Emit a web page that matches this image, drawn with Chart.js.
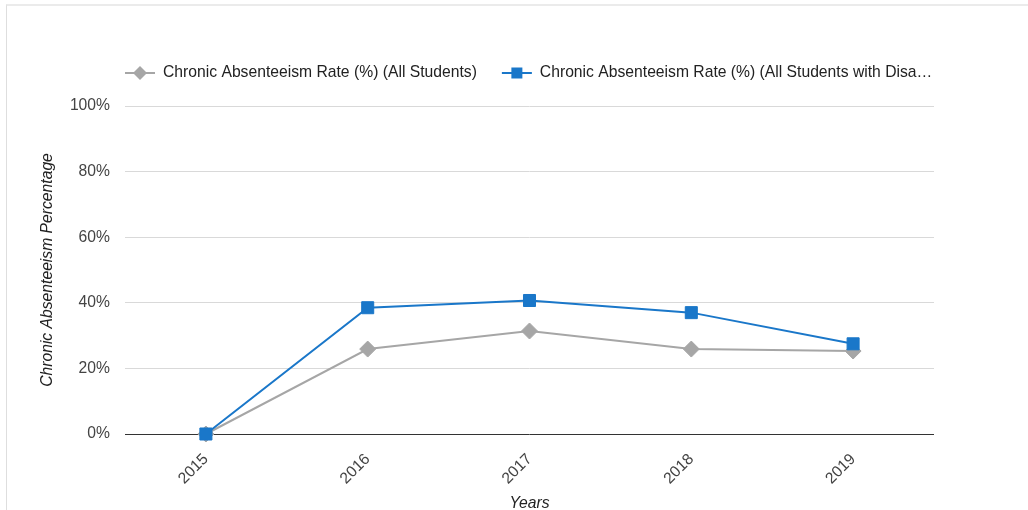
<!DOCTYPE html>
<html>
<head>
<meta charset="utf-8">
<title>Chronic Absenteeism</title>
<script src="https://cdn.jsdelivr.net/npm/chart.js@4.4.1/dist/chart.umd.min.js"></script>
<style>
  html, body { margin: 0; padding: 0; background: #fff; overflow: hidden; }
  .card {
    position: absolute; left: 6px; top: 4px; width: 1040px; height: 520px;
    border-top: 2px solid #ebebeb; border-left: 1px solid #dedede;
  }
  #chart-wrap { position: absolute; left: 0; top: 0; width: 1028px; height: 510px; }
</style>
</head>
<body>
<div class="card"></div>
<div id="chart-wrap"><canvas id="absenteeismChart"></canvas></div>
<script>
const years = ['2015', '2016', '2017', '2018', '2019'];
const allStudents = [0, 25.9, 31.4, 25.9, 25.3];
const withDisabilities = [0, 38.5, 40.7, 37.0, 27.5];
const seriesNames = [
  'Chronic Absenteeism Rate (%) (All Students)',
  'Chronic Absenteeism Rate (%) (All Students with Disa\u2026'
];
const yTicks = [0, 20, 40, 60, 80, 100];

const GRAY = '#a6a6a6';
const BLUE = '#1a77c9';
const FONT = '"Liberation Sans", Arial, sans-serif';
const FONT_SIZE = 15.7;

Chart.defaults.font.family = FONT;
Chart.defaults.font.size = FONT_SIZE;

// small marker shapes, shared by the legend
function drawMarker(ctx, style, x, y, r, color) {
  ctx.fillStyle = color;
  ctx.beginPath();
  if (style === 'rectRot') {
    ctx.moveTo(x, y - r); ctx.lineTo(x + r, y); ctx.lineTo(x, y + r); ctx.lineTo(x - r, y);
  } else {
    ctx.rect(x - r, y - r, r * 2, r * 2);
  }
  ctx.closePath();
  ctx.fill();
}

// legend: line + marker, then the label, starting at the plot's left edge
const lineLegend = {
  id: 'lineLegend',
  afterDraw(chart) {
    const ctx = chart.ctx;
    const y = chart.chartArea.top - 33;
    let x = chart.chartArea.left;
    ctx.save();
    ctx.font = FONT_SIZE + 'px ' + FONT;
    ctx.textBaseline = 'middle';
    ctx.textAlign = 'left';
    chart.data.datasets.forEach(ds => {
      ctx.strokeStyle = ds.borderColor;
      ctx.lineWidth = 2;
      ctx.beginPath();
      ctx.moveTo(x, y);
      ctx.lineTo(x + 30, y);
      ctx.stroke();
      drawMarker(ctx, ds.pointStyle, x + 15, y, ds.pointStyle === 'rectRot' ? 7 : 5.5, ds.borderColor);
      ctx.fillStyle = '#222';
      ctx.fillText(ds.label, x + 38, y);
      x += 38 + ctx.measureText(ds.label).width + 25;
    });
    ctx.restore();
  }
};

const ctx = document.getElementById('absenteeismChart').getContext('2d');

new Chart(ctx, {
  type: 'line',
  data: {
    labels: years,
    datasets: [
      {
        label: seriesNames[0],
        data: allStudents,
        borderColor: GRAY,
        backgroundColor: GRAY,
        borderWidth: 2,
        pointStyle: 'rectRot',
        pointRadius: 8,
        pointBorderWidth: 1,
        clip: false,
        order: 2
      },
      {
        label: seriesNames[1],
        data: withDisabilities,
        borderColor: BLUE,
        backgroundColor: BLUE,
        borderWidth: 2,
        pointStyle: 'rect',
        pointRadius: 8.5,
        pointBorderWidth: 1,
        clip: false,
        order: 1
      }
    ]
  },
  options: {
    responsive: true,
    maintainAspectRatio: false,
    animation: false,
    layout: { padding: { top: 106, right: 94, bottom: 0, left: 0 } },
    plugins: {
      legend: { display: false },
      tooltip: { enabled: false }
    },
    scales: {
      x: {
        offset: true,
        grid: { display: false },
        border: { display: false },
        ticks: { color: '#444', minRotation: 45, maxRotation: 45, padding: 8 },
        title: {
          display: true, text: 'Years', color: '#222',
          font: { style: 'italic', size: FONT_SIZE }, padding: { top: 0, bottom: -3 }
        },
        afterFit(scale) { scale.height = 76; }
      },
      y: {
        min: yTicks[0],
        max: yTicks[yTicks.length - 1],
        afterBuildTicks(scale) { scale.ticks = yTicks.map(v => ({ value: v })); },
        grid: {
          drawTicks: false,
          color: c => c.tick && c.tick.value === 0 ? '#333' : '#d9d9d9'
        },
        border: { display: false },
        ticks: { color: '#444', padding: 15, callback: v => v + '%' },
        title: {
          display: true, text: 'Chronic Absenteeism Percentage', color: '#222',
          font: { style: 'italic', size: FONT_SIZE }, padding: { top: 38, bottom: 0 }
        },
        afterFit(scale) { scale.width = 125; }
      }
    }
  },
  plugins: [lineLegend]
});
</script>
</body>
</html>
